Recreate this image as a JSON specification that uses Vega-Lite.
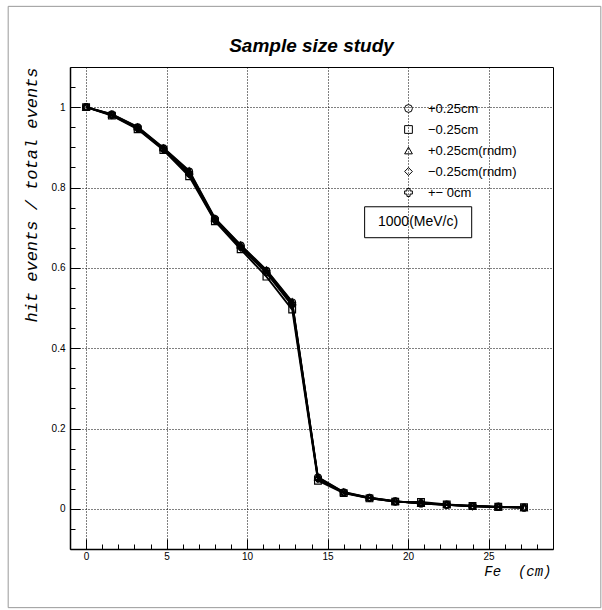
{
  "$schema": "https://vega.github.io/schema/vega-lite/v6.json",
  "width": 483,
  "height": 482,
  "autosize": {"type": "none"},
  "padding": {"left": 70, "top": 67, "right": 49, "bottom": 61},
  "background": "white",
  "title": {
    "text": "Sample size study",
    "font": "Liberation Sans",
    "fontSize": 19,
    "fontStyle": "italic",
    "fontWeight": "bold",
    "anchor": "middle",
    "offset": -50,
    "color": "black"
  },
  "config": {
    "view": {"stroke": "black", "strokeWidth": 1},
    "axis": {
      "labelFont": "Liberation Sans",
      "labelFontSize": 10,
      "labelColor": "black",
      "domainColor": "black",
      "domainWidth": 1.5,
      "tickColor": "black",
      "gridColor": "black",
      "gridDash": [1, 2],
      "gridWidth": 1
    }
  },
  "datasets": {
    "curves": [
      {"series": "+0.25cm", "fe": 0, "ratio": 1.0},
      {"series": "+0.25cm", "fe": 1.6, "ratio": 0.982},
      {"series": "+0.25cm", "fe": 3.2, "ratio": 0.950},
      {"series": "+0.25cm", "fe": 4.8, "ratio": 0.898},
      {"series": "+0.25cm", "fe": 6.4, "ratio": 0.840},
      {"series": "+0.25cm", "fe": 8.0, "ratio": 0.722},
      {"series": "+0.25cm", "fe": 9.6, "ratio": 0.656},
      {"series": "+0.25cm", "fe": 11.2, "ratio": 0.593},
      {"series": "+0.25cm", "fe": 12.8, "ratio": 0.514},
      {"series": "+0.25cm", "fe": 14.4, "ratio": 0.078},
      {"series": "+0.25cm", "fe": 16.0, "ratio": 0.041},
      {"series": "+0.25cm", "fe": 17.6, "ratio": 0.028},
      {"series": "+0.25cm", "fe": 19.2, "ratio": 0.019},
      {"series": "+0.25cm", "fe": 20.8, "ratio": 0.013},
      {"series": "+0.25cm", "fe": 22.4, "ratio": 0.010},
      {"series": "+0.25cm", "fe": 24.0, "ratio": 0.007},
      {"series": "+0.25cm", "fe": 25.6, "ratio": 0.005},
      {"series": "+0.25cm", "fe": 27.2, "ratio": 0.003},
      {"series": "−0.25cm", "fe": 0, "ratio": 1.0},
      {"series": "−0.25cm", "fe": 1.6, "ratio": 0.979},
      {"series": "−0.25cm", "fe": 3.2, "ratio": 0.945},
      {"series": "−0.25cm", "fe": 4.8, "ratio": 0.893},
      {"series": "−0.25cm", "fe": 6.4, "ratio": 0.828},
      {"series": "−0.25cm", "fe": 8.0, "ratio": 0.716},
      {"series": "−0.25cm", "fe": 9.6, "ratio": 0.646},
      {"series": "−0.25cm", "fe": 11.2, "ratio": 0.578},
      {"series": "−0.25cm", "fe": 12.8, "ratio": 0.496},
      {"series": "−0.25cm", "fe": 14.4, "ratio": 0.070},
      {"series": "−0.25cm", "fe": 16.0, "ratio": 0.039},
      {"series": "−0.25cm", "fe": 17.6, "ratio": 0.026},
      {"series": "−0.25cm", "fe": 19.2, "ratio": 0.018},
      {"series": "−0.25cm", "fe": 20.8, "ratio": 0.017},
      {"series": "−0.25cm", "fe": 22.4, "ratio": 0.011},
      {"series": "−0.25cm", "fe": 24.0, "ratio": 0.007},
      {"series": "−0.25cm", "fe": 25.6, "ratio": 0.005},
      {"series": "−0.25cm", "fe": 27.2, "ratio": 0.004},
      {"series": "+0.25cm(rndm)", "fe": 0, "ratio": 1.0},
      {"series": "+0.25cm(rndm)", "fe": 1.6, "ratio": 0.983},
      {"series": "+0.25cm(rndm)", "fe": 3.2, "ratio": 0.951},
      {"series": "+0.25cm(rndm)", "fe": 4.8, "ratio": 0.899},
      {"series": "+0.25cm(rndm)", "fe": 6.4, "ratio": 0.842},
      {"series": "+0.25cm(rndm)", "fe": 8.0, "ratio": 0.724},
      {"series": "+0.25cm(rndm)", "fe": 9.6, "ratio": 0.657},
      {"series": "+0.25cm(rndm)", "fe": 11.2, "ratio": 0.595},
      {"series": "+0.25cm(rndm)", "fe": 12.8, "ratio": 0.516},
      {"series": "+0.25cm(rndm)", "fe": 14.4, "ratio": 0.079},
      {"series": "+0.25cm(rndm)", "fe": 16.0, "ratio": 0.042},
      {"series": "+0.25cm(rndm)", "fe": 17.6, "ratio": 0.028},
      {"series": "+0.25cm(rndm)", "fe": 19.2, "ratio": 0.019},
      {"series": "+0.25cm(rndm)", "fe": 20.8, "ratio": 0.013},
      {"series": "+0.25cm(rndm)", "fe": 22.4, "ratio": 0.010},
      {"series": "+0.25cm(rndm)", "fe": 24.0, "ratio": 0.007},
      {"series": "+0.25cm(rndm)", "fe": 25.6, "ratio": 0.004},
      {"series": "+0.25cm(rndm)", "fe": 27.2, "ratio": 0.003},
      {"series": "−0.25cm(rndm)", "fe": 0, "ratio": 1.0},
      {"series": "−0.25cm(rndm)", "fe": 1.6, "ratio": 0.980},
      {"series": "−0.25cm(rndm)", "fe": 3.2, "ratio": 0.947},
      {"series": "−0.25cm(rndm)", "fe": 4.8, "ratio": 0.895},
      {"series": "−0.25cm(rndm)", "fe": 6.4, "ratio": 0.832},
      {"series": "−0.25cm(rndm)", "fe": 8.0, "ratio": 0.718},
      {"series": "−0.25cm(rndm)", "fe": 9.6, "ratio": 0.650},
      {"series": "−0.25cm(rndm)", "fe": 11.2, "ratio": 0.587},
      {"series": "−0.25cm(rndm)", "fe": 12.8, "ratio": 0.506},
      {"series": "−0.25cm(rndm)", "fe": 14.4, "ratio": 0.074},
      {"series": "−0.25cm(rndm)", "fe": 16.0, "ratio": 0.040},
      {"series": "−0.25cm(rndm)", "fe": 17.6, "ratio": 0.027},
      {"series": "−0.25cm(rndm)", "fe": 19.2, "ratio": 0.018},
      {"series": "−0.25cm(rndm)", "fe": 20.8, "ratio": 0.015},
      {"series": "−0.25cm(rndm)", "fe": 22.4, "ratio": 0.010},
      {"series": "−0.25cm(rndm)", "fe": 24.0, "ratio": 0.006},
      {"series": "−0.25cm(rndm)", "fe": 25.6, "ratio": 0.005},
      {"series": "−0.25cm(rndm)", "fe": 27.2, "ratio": 0.003},
      {"series": "+− 0cm", "fe": 0, "ratio": 1.0},
      {"series": "+− 0cm", "fe": 1.6, "ratio": 0.981},
      {"series": "+− 0cm", "fe": 3.2, "ratio": 0.948},
      {"series": "+− 0cm", "fe": 4.8, "ratio": 0.896},
      {"series": "+− 0cm", "fe": 6.4, "ratio": 0.836},
      {"series": "+− 0cm", "fe": 8.0, "ratio": 0.720},
      {"series": "+− 0cm", "fe": 9.6, "ratio": 0.653},
      {"series": "+− 0cm", "fe": 11.2, "ratio": 0.590},
      {"series": "+− 0cm", "fe": 12.8, "ratio": 0.510},
      {"series": "+− 0cm", "fe": 14.4, "ratio": 0.076},
      {"series": "+− 0cm", "fe": 16.0, "ratio": 0.040},
      {"series": "+− 0cm", "fe": 17.6, "ratio": 0.027},
      {"series": "+− 0cm", "fe": 19.2, "ratio": 0.018},
      {"series": "+− 0cm", "fe": 20.8, "ratio": 0.014},
      {"series": "+− 0cm", "fe": 22.4, "ratio": 0.010},
      {"series": "+− 0cm", "fe": 24.0, "ratio": 0.007},
      {"series": "+− 0cm", "fe": 25.6, "ratio": 0.005},
      {"series": "+− 0cm", "fe": 27.2, "ratio": 0.003}
    ],
    "notebox": [
      {"fe": 17.3, "fe2": 23.95, "ratio": 0.752, "ratio2": 0.675}
    ],
    "notetext": [
      {"label": "1000(MeV/c)", "fe": 20.62, "ratio": 0.7135}
    ],
    "frame": [
      {"fe": -4.84, "fe2": 31.97, "ratio": 1.251, "ratio2": -0.246}
    ]
  },
  "encoding": {
    "x": {
      "field": "fe",
      "type": "quantitative",
      "scale": {"domain": [-1, 29], "nice": false, "zero": false},
      "axis": {
        "title": "Fe\u00a0\u00a0(cm)",
        "titleFont": "Liberation Mono",
        "titleFontStyle": "italic",
        "titleFontWeight": "normal",
        "titleFontSize": 14,
        "titleColor": "black",
        "titleAlign": "right",
        "titleAnchor": null,
        "titleX": 481,
        "titleY": 26,
        "titleBaseline": "alphabetic",
        "values": [0,1,2,3,4,5,6,7,8,9,10,11,12,13,14,15,16,17,18,19,20,21,22,23,24,25,26,27,28],
        "labelExpr": "datum.value % 5 === 0 ? datum.label : ''",
        "labelPadding": 12,
        "labelFlush": false,
        "labelOverlap": false,
        "tickSize": {"condition": {"test": "datum.value % 5 === 0", "value": -10}, "value": -5},
        "gridOpacity": {"condition": {"test": "datum.value % 5 === 0", "value": 1}, "value": 0}
      }
    },
    "y": {
      "field": "ratio",
      "type": "quantitative",
      "scale": {"domain": [-0.1, 1.1], "nice": false, "zero": false},
      "axis": {
        "title": "hit events / total events",
        "titleFont": "Liberation Mono",
        "titleFontStyle": "italic",
        "titleFontWeight": "normal",
        "titleFontSize": 17,
        "titleColor": "black",
        "titleAngle": 270,
        "titleAlign": "right",
        "titleAnchor": null,
        "titleX": -34,
        "titleY": 0,
        "titleBaseline": "alphabetic",
        "values": [-0.05,0,0.05,0.1,0.15,0.2,0.25,0.3,0.35,0.4,0.45,0.5,0.55,0.6,0.65,0.7,0.75,0.8,0.85,0.9,0.95,1,1.05],
        "format": ".2~f",
        "labelExpr": "abs(datum.value*5 - round(datum.value*5)) < 1e-6 ? datum.label : ''",
        "labelPadding": 15,
        "labelOverlap": false,
        "labelFlush": false,
        "tickSize": {"condition": {"test": "abs(datum.value*5 - round(datum.value*5)) < 1e-6", "value": -10}, "value": -5},
        "gridOpacity": {"condition": {"test": "abs(datum.value*5 - round(datum.value*5)) < 1e-6", "value": 1}, "value": 0}
      }
    }
  },
  "layer": [
    {
      "data": {"name": "frame"},
      "mark": {"type": "rect", "filled": false, "stroke": "#999999", "strokeWidth": 1, "clip": false},
      "encoding": {
        "x2": {"field": "fe2"},
        "y2": {"field": "ratio2"}
      }
    },
    {
      "data": {"name": "curves"},
      "mark": {"type": "line", "color": "black", "strokeWidth": 1.8},
      "encoding": {
        "detail": {"field": "series"}
      }
    },
    {
      "data": {"name": "curves"},
      "mark": {"type": "point", "filled": false, "stroke": "black", "strokeWidth": 1.2, "size": 45, "opacity": 1},
      "encoding": {
        "shape": {
          "field": "series",
          "type": "nominal",
          "scale": {
            "domain": ["+0.25cm", "−0.25cm", "+0.25cm(rndm)", "−0.25cm(rndm)", "+− 0cm"],
            "range": ["circle", "square", "triangle-up", "diamond", "cross"]
          },
          "legend": {
            "title": null,
            "orient": "none",
            "legendX": 332,
            "legendY": 35,
            "padding": 0,
            "symbolSize": 60,
            "symbolStrokeColor": "black",
            "symbolStrokeWidth": 1,
            "symbolFillColor": "transparent",
            "labelFont": "Liberation Sans",
            "labelFontSize": 13,
            "labelColor": "black",
            "labelOffset": 13,
            "rowPadding": 7
          }
        }
      }
    },
    {
      "data": {"name": "notebox"},
      "mark": {"type": "rect", "filled": false, "stroke": "black", "strokeWidth": 1},
      "encoding": {
        "x2": {"field": "fe2"},
        "y2": {"field": "ratio2"}
      }
    },
    {
      "data": {"name": "notetext"},
      "mark": {"type": "text", "font": "Liberation Sans", "fontSize": 14, "color": "black", "align": "center", "baseline": "middle"},
      "encoding": {
        "text": {"field": "label"}
      }
    }
  ]
}
